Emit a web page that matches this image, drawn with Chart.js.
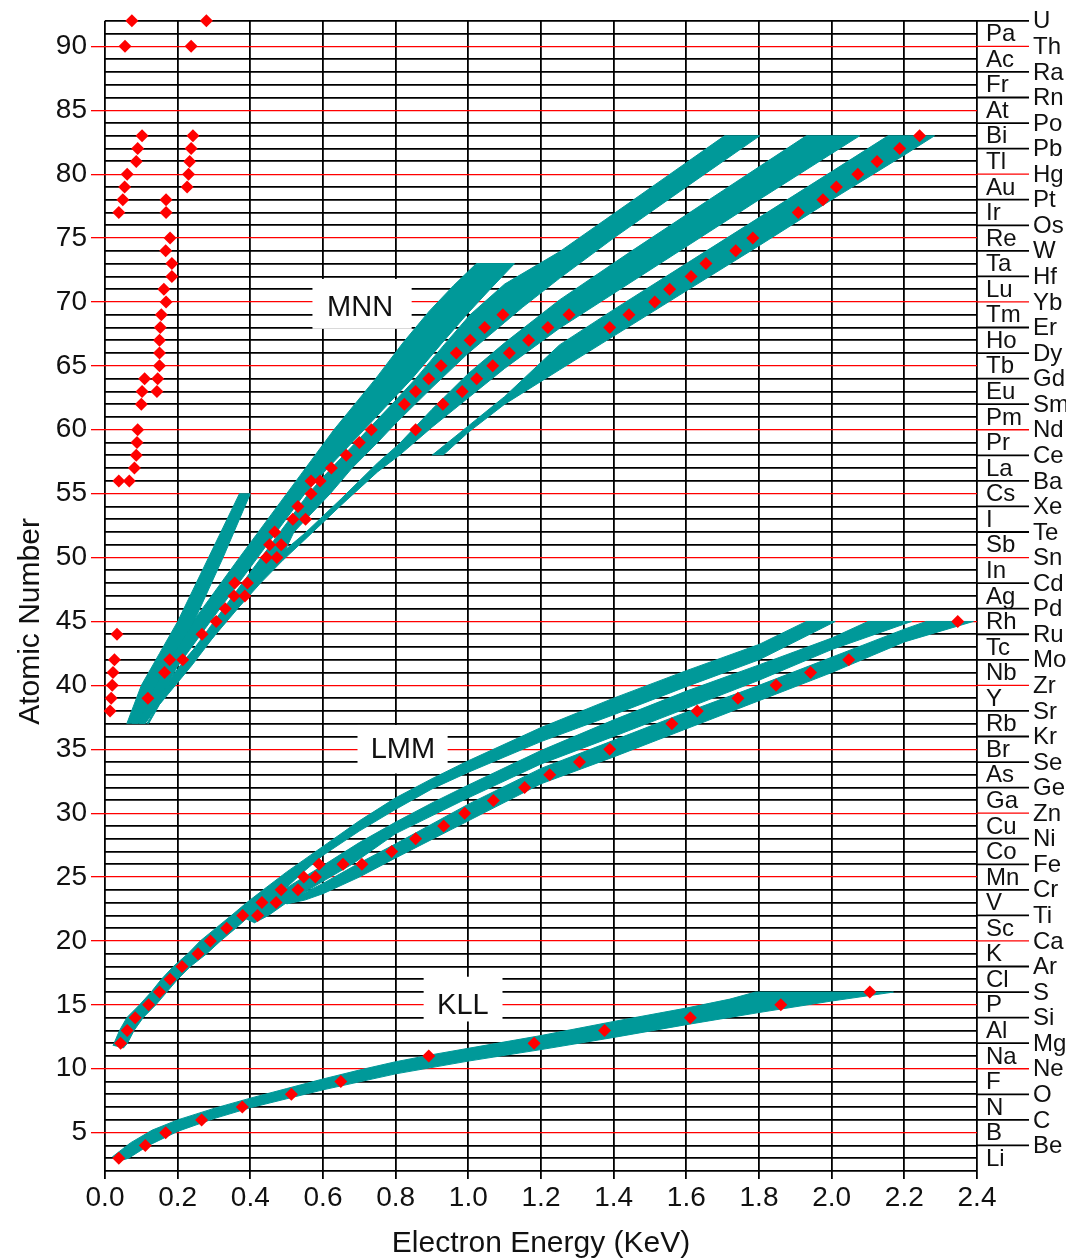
<!DOCTYPE html>
<html>
<head>
<meta charset="utf-8">
<title>Auger Electron Energies</title>
<script src="https://cdn.jsdelivr.net/npm/chart.js@4.4.1/dist/chart.umd.min.js"></script>
<style>
  html, body { margin: 0; padding: 0; background: #fff; }
  #wrap { width: 1066px; height: 1258px; }
</style>
</head>
<body>
<div id="wrap"><canvas id="augerChart" width="1066" height="1258"></canvas></div>
<script>
// ---------- element symbols, Z = 3 .. 92 ----------
const elementSymbols = ["Li","Be","B","C","N","O","F","Ne","Na","Mg","Al","Si","P","S","Cl","Ar","K","Ca",
  "Sc","Ti","V","Cr","Mn","Fe","Co","Ni","Cu","Zn","Ga","Ge","As","Se","Br","Kr","Rb","Sr","Y","Zr",
  "Nb","Mo","Tc","Ru","Rh","Pd","Ag","Cd","In","Sn","Sb","Te","I","Xe","Cs","Ba","La","Ce","Pr","Nd",
  "Pm","Sm","Eu","Gd","Tb","Dy","Ho","Er","Tm","Yb","Lu","Hf","Ta","W","Re","Os","Ir","Pt","Au","Hg",
  "Tl","Pb","Bi","Po","At","Rn","Fr","Ra","Ac","Th","Pa","U"];
const firstZ = 3;

// ---------- measured peaks (energy in keV, atomic number) ----------
const kllZ = [3, 4, 5, 6, 7, 8, 9, 11, 12, 13, 14, 15, 16];
const kllE = [0.038, 0.111, 0.167, 0.266, 0.378, 0.513, 0.649, 0.891, 1.181, 1.375, 1.611, 1.86, 2.105];

const lmmZ = [12, 13, 14, 15, 16, 17, 18, 19, 20, 21, 22, 22, 23, 23, 24, 24, 25, 25, 26, 26, 26,
  27, 28, 29, 30, 31, 32, 33, 34, 35, 37, 38, 39, 40, 41, 42, 45];
const lmmE = [0.043, 0.061, 0.083, 0.12, 0.15, 0.179, 0.212, 0.256, 0.29, 0.335, 0.379, 0.42, 0.432, 0.471,
  0.485, 0.531, 0.547, 0.579, 0.589, 0.655, 0.707, 0.789, 0.855, 0.932, 0.99, 1.069, 1.155, 1.224, 1.306,
  1.389, 1.56, 1.63, 1.742, 1.847, 1.942, 2.047, 2.347];

const mnnZ = [39, 41, 42, 42, 44, 45, 46, 47, 47, 48, 48, 50, 50, 51, 51, 52, 53, 53, 54, 55, 56, 56,
  57, 58, 59, 60, 62, 63, 64, 65, 66, 67, 68, 69,
  60, 62, 63, 64, 65, 66, 67, 68, 69,
  68, 69, 70, 71, 72, 73, 74, 75, 77, 78, 79, 80, 81, 82, 83];
const mnnE = [0.118, 0.164, 0.178, 0.214, 0.267, 0.306, 0.331, 0.355, 0.385, 0.357, 0.392, 0.444, 0.473,
  0.453, 0.485, 0.467, 0.517, 0.552, 0.531, 0.567, 0.567, 0.592,
  0.623, 0.664, 0.70, 0.733, 0.824, 0.855, 0.891, 0.925, 0.967, 1.005, 1.045, 1.095,
  0.855, 0.93, 0.983, 1.023, 1.067, 1.113, 1.166, 1.219, 1.277,
  1.389, 1.442, 1.513, 1.554, 1.613, 1.654, 1.736, 1.783, 1.908, 1.976, 2.013, 2.072, 2.125, 2.187, 2.242];

const lowZ = [38, 39, 40, 41, 42, 44, 56, 56, 57, 58, 59, 60, 62, 63, 63, 64, 64, 65, 66, 67, 68, 69,
  70, 71, 72, 73, 74, 75, 77, 77, 78, 78, 79, 79, 80, 80, 81, 81, 82, 82, 83, 83, 90, 90, 92, 92];
const lowE = [0.014, 0.017, 0.02, 0.022, 0.026, 0.033, 0.038, 0.067, 0.081, 0.086, 0.088, 0.09, 0.1,
  0.102, 0.143, 0.109, 0.145, 0.15, 0.15, 0.15, 0.152, 0.155, 0.168, 0.162, 0.184, 0.184, 0.167, 0.179,
  0.038, 0.168, 0.049, 0.168, 0.054, 0.226, 0.061, 0.23, 0.086, 0.233, 0.09, 0.237, 0.102, 0.242,
  0.055, 0.237, 0.074, 0.279];

// ---------- energy bands, outlines as [keV, Z] ----------
const kllBand = [[0.02,3.1],[0.07,4.2],[0.13,5.2],[0.2,6.0],[0.3,6.9],[0.4,7.7],[0.5,8.45],[0.6,9.2],
  [0.7,9.9],[0.8,10.55],[0.9,11.1],[1.0,11.6],[1.2,12.6],[1.4,13.7],[1.6,14.75],[1.72,15.45],[1.79,16],
  [2.17,16],[2.0,15.3],[1.8,14.4],[1.6,13.45],[1.4,12.45],[1.2,11.5],[1.0,10.6],[0.8,9.6],[0.6,8.35],
  [0.5,7.65],[0.4,6.95],[0.3,6.1],[0.2,5.1],[0.12,4.0],[0.065,3.0],[0.035,2.75]];

const lmmBandA = [[0.022,11.8],[0.04,13],[0.06,14],[0.095,15],[0.127,16],[0.155,17],[0.188,18],
  [0.228,19],[0.262,20],[0.305,21],[0.348,22],[0.39,23],[0.44,24.1],[0.5,25.4],[0.6,27.4],[0.7,29.4],
  [0.8,31.2],[0.9,32.7],[1.0,34.1],[1.2,36.7],[1.4,39.0],[1.6,41.15],[1.8,43.2],[1.93,45],
  [2.01,45],[1.8,42.0],[1.6,39.9],[1.4,37.7],[1.2,35.6],[1.0,33.2],[0.9,31.9],[0.8,30.3],[0.7,28.6],
  [0.6,26.7],[0.55,25.5],[0.5,24.2],[0.45,23.1],[0.4,22.0],[0.36,21],[0.318,20],[0.28,19],[0.235,18],
  [0.2,17],[0.17,16],[0.14,15],[0.105,14],[0.08,13],[0.062,12],[0.05,11.6]];

const lmmBandB = [[0.38,21.8],[0.42,22.6],[0.47,23.6],[0.53,24.7],[0.6,25.9],[0.7,27.7],[0.8,29.3],
  [0.9,30.8],[1.0,32.2],[1.2,34.9],[1.4,37.3],[1.6,39.55],[1.8,41.6],[2.0,43.7],[2.1,45],
  [2.22,45],[2.0,42.8],[1.8,40.4],[1.6,38.2],[1.4,36.0],[1.2,33.85],[1.0,31.2],[0.8,28.4],[0.74,27.2],
  [0.68,26],[0.62,25],[0.56,24],[0.5,23],[0.45,22],[0.41,21.4]];

const lmmBandC = [[0.49,23.1],[0.55,23.8],[0.6,24.5],[0.7,26.1],[0.8,27.6],[1.0,30.7],[1.2,33.5],
  [1.4,35.7],[1.6,37.9],[1.8,40.0],[2.0,42.2],[2.2,44.4],[2.26,45],
  [2.39,45],[2.2,43.4],[2.0,41.0],[1.8,38.8],[1.6,36.6],[1.4,34.4],[1.2,32.3],[1.0,29.4],[0.8,26.5],
  [0.7,25.0],[0.6,23.7],[0.55,23.2],[0.5,22.9]];

const mnnBandS = [[0.06,37],[0.1,40],[0.15,42.5],[0.2,45],[0.285,50],[0.37,55],
  [0.40,55],[0.325,50],[0.245,45],[0.19,42.5],[0.14,40],[0.09,37]];

const mnnBand1 = [[0.075,37],[0.14,41],[0.25,45.3],[0.37,50],[0.5,55],[0.63,60],[0.745,64],
  [0.82,66.8],[0.893,69.3],[0.96,71.3],[1.022,73],
  [1.127,73],[1.06,71.0],[0.995,69.0],[0.925,66.7],[0.845,64.0],[0.7,59.6],[0.6,56.6],[0.55,55],
  [0.42,50],[0.29,45],[0.2,41.5],[0.11,37]];

const mnnBand2 = [[0.115,37],[0.21,41.5],[0.3,45],[0.43,50],[0.56,55],[0.61,56.6],[0.71,59.6],
  [0.8,62.3],[0.855,64.0],[0.935,66.7],[1.005,69.0],[1.1,71.4],[1.251,73.93],[1.4,76.9],[1.55,79.9],
  [1.705,83],
  [1.802,83],[1.6,79.0],[1.4,75.0],[1.251,71.85],[1.15,69.6],[1.1,68.4],[1.0,66.0],[0.9,63.3],
  [0.8,60.5],[0.75,59.0],[0.68,57.0],[0.62,55.0],[0.52,52.0],[0.49,50.2],[0.43,48.4],[0.35,45.7],
  [0.24,41.6],[0.15,38.5],[0.12,37]];

const mnnBand3 = [[0.095,37],[0.155,39.6],[0.222,42.1],[0.292,44.4],[0.352,46.4],[0.412,48.3],
  [0.475,50.1],[0.55,51.9],[0.65,54.6],[0.75,57.4],[0.81,58.9],[0.9,61.6],[1.0,64.4],[1.1,66.8],
  [1.251,70.16],[1.45,74.0],[1.7,78.7],[1.93,83],
  [2.077,83],[1.8,78.0],[1.5,72.5],[1.251,67.94],[1.1,64.8],[1.0,62.5],[0.9,60.2],[0.81,58.0],
  [0.75,56.7],[0.65,54.1],[0.55,51.4],[0.49,49.8],[0.428,48.0],[0.368,46.1],[0.308,44.1],
  [0.238,41.8],[0.17,39.3],[0.11,37]];

const mnnBand4 = [[0.9,58.0],[1.0,60.3],[1.1,62.6],[1.251,66.64],[1.4,69.4],[1.6,73.0],[1.8,76.6],
  [2.0,80.2],[2.155,83],
  [2.283,83],[2.2,81.5],[2.0,78.0],[1.8,74.4],[1.6,70.87],[1.4,67.33],[1.251,64.69],[1.1,62.0],
  [1.0,59.8],[0.93,58.0]];

// ---------- band captions ----------
const bandLabels = [
  { text: "MNN", e: 0.702, z: 69.6, box: [0.571, 0.844, 67.9, 71.8] },
  { text: "LMM", e: 0.82,  z: 35.0, box: [0.695, 0.943, 33.1, 36.9] },
  { text: "KLL", e: 0.985, z: 15.0, box: [0.877, 1.094, 13.7, 17.2] }
];

const TEAL = "#009999";
const RED = "#ff0000";
const FONT = "'Liberation Sans', Arial, sans-serif";

const toPoints = (es, zs) => es.map((e, i) => ({ x: e, y: zs[i] }));
const toShape = band => band.map(([e, z]) => ({ x: e, y: z }));

function bandDataset(band) {
    return {
        type: "line",
        data: toShape(band),
        showLine: true,
        fill: "shape",
        backgroundColor: TEAL,
        borderColor: TEAL,
        borderWidth: 1,
        pointRadius: 0,
        tension: 0,
        order: 2
    };
}

const peakStyle = {
    type: "scatter",
    pointStyle: "rectRot",
    pointRadius: 6.5,
    backgroundColor: RED,
    borderColor: RED,
    borderWidth: 0,
    clip: false,
    order: 1
};

// white boxes behind the KLL / LMM / MNN captions (over the grid, under the bands)
const captionBoxes = {
    id: "captionBoxes",
    beforeDatasetsDraw(chart) {
        const { ctx, scales: { x, y } } = chart;
        ctx.save();
        ctx.fillStyle = "#fff";
        bandLabels.forEach(l => {
            const x0 = x.getPixelForValue(l.box[0]);
            const x1 = x.getPixelForValue(l.box[1]);
            const y0 = y.getPixelForValue(l.box[3]);
            const y1 = y.getPixelForValue(l.box[2]);
            ctx.fillRect(x0, y0, x1 - x0, y1 - y0);
        });
        ctx.fillStyle = "#111";
        ctx.font = "29px " + FONT;
        ctx.textAlign = "center";
        ctx.textBaseline = "middle";
        bandLabels.forEach(l => {
            ctx.fillText(l.text, x.getPixelForValue(l.e), y.getPixelForValue(l.z) + 1);
        });
        ctx.restore();
    }
};

// element symbols down the right hand side, two staggered columns, plus the y title
const elementColumn = {
    id: "elementColumn",
    afterDraw(chart) {
        const { ctx, chartArea, scales: { y } } = chart;
        const right = chartArea.right;
        ctx.save();
        ctx.font = "24px " + FONT;
        ctx.textBaseline = "middle";
        ctx.fillStyle = "#111";
        elementSymbols.forEach((sym, i) => {
            const z = firstZ + i;
            const py = y.getPixelForValue(z);
            if (z % 2 === 0) {
                ctx.beginPath();
                ctx.strokeStyle = z % 5 === 0 ? RED : "#000";
                ctx.lineWidth = z % 5 === 0 ? 1.3 : 1.8;
                ctx.moveTo(right, py);
                ctx.lineTo(right + 52, py);
                ctx.stroke();
                ctx.fillText(sym, right + 56, py + 1);
            } else {
                ctx.fillText(sym, right + 9, py + 1);
            }
        });

        // rotated axis title, centred a little below the middle like the original
        ctx.font = "30px " + FONT;
        ctx.textAlign = "center";
        ctx.translate(31, y.getPixelForValue(45));
        ctx.rotate(-Math.PI / 2);
        ctx.fillText("Atomic Number", 0, 0);
        ctx.restore();
    }
};

document.addEventListener("DOMContentLoaded", () => {
    const ctx = document.getElementById("augerChart");

    const datasets = [
        Object.assign({ data: toPoints(kllE, kllZ) }, peakStyle),
        Object.assign({ data: toPoints(lmmE, lmmZ) }, peakStyle),
        Object.assign({ data: toPoints(mnnE, mnnZ) }, peakStyle),
        Object.assign({ data: toPoints(lowE, lowZ) }, peakStyle),
        bandDataset(kllBand),
        bandDataset(lmmBandA),
        bandDataset(lmmBandB),
        bandDataset(lmmBandC),
        bandDataset(mnnBandS),
        bandDataset(mnnBand1),
        bandDataset(mnnBand2),
        bandDataset(mnnBand3),
        bandDataset(mnnBand4)
    ];

    new Chart(ctx, {
        type: "scatter",
        data: { datasets },
        plugins: [captionBoxes, elementColumn],
        options: {
            responsive: false,
            animation: false,
            layout: { padding: { top: 18, right: 89, left: 0, bottom: 0 } },
            plugins: {
                legend: { display: false },
                tooltip: { enabled: false }
            },
            scales: {
                x: {
                    type: "linear",
                    min: 0,
                    max: 2.4,
                    afterFit: s => { s.height = 87; },
                    ticks: {
                        stepSize: 0.2,
                        autoSkip: false,
                        maxRotation: 0,
                        padding: 2,
                        color: "#111",
                        font: { family: FONT, size: 28 },
                        callback: v => Number(v).toFixed(1)
                    },
                    grid: { color: "#000", lineWidth: 1.8, tickLength: 8 },
                    border: { display: false },
                    title: {
                        display: true,
                        text: "Electron Energy (KeV)",
                        color: "#111",
                        font: { family: FONT, size: 30 },
                        padding: { top: 0, bottom: -4 }
                    }
                },
                y: {
                    type: "linear",
                    min: 2,
                    max: 92,
                    afterFit: s => { s.width = 105; },
                    ticks: {
                        stepSize: 1,
                        autoSkip: false,
                        padding: 4,
                        color: "#111",
                        font: { family: FONT, size: 28 },
                        callback: v => (v % 5 === 0 ? v : "")
                    },
                    grid: {
                        color: c => (c.tick && c.tick.value % 5 === 0 ? RED : "#000"),
                        lineWidth: c => (c.tick && c.tick.value % 5 === 0 ? 1.3 : 1.8),
                        tickColor: c => (c.tick && c.tick.value % 5 === 0 ? RED : "rgba(0,0,0,0)"),
                        tickLength: 14
                    },
                    border: { display: false },
                    title: { display: false }
                }
            }
        }
    });
});
</script>
</body>
</html>
